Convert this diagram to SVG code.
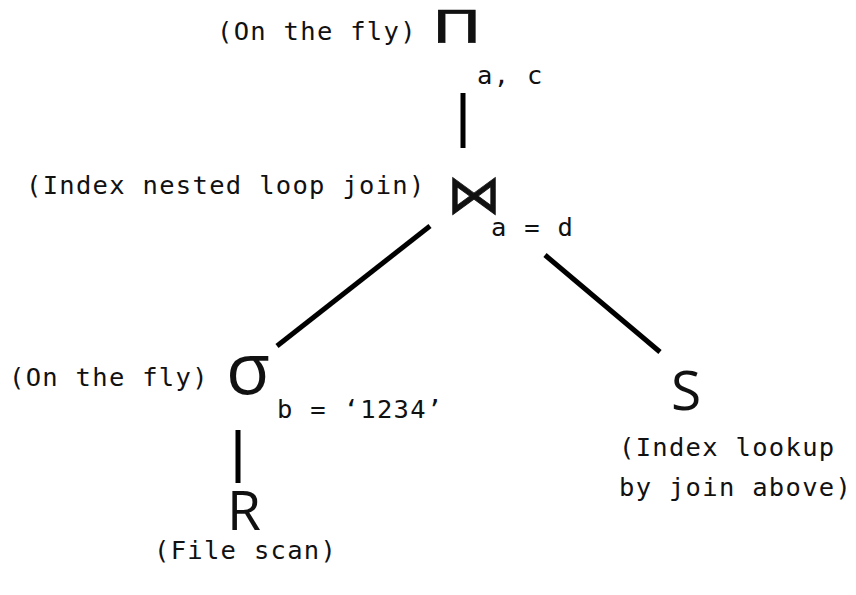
<svg xmlns="http://www.w3.org/2000/svg" width="856" height="595" viewBox="0 0 856 595">
<style>
.lbl{font-family:"DejaVu Sans Mono","Liberation Mono",monospace;font-size:25.5px;letter-spacing:1.3px;fill:#111}
.sym{font-family:"Open Sans","Liberation Sans",sans-serif;fill:#111}
.edge{stroke:#000;stroke-width:5;stroke-linecap:butt;fill:none}
</style>
<rect width="856" height="595" fill="#fff"/>
<g id="connectors">
<line class="edge" x1="463" y1="93" x2="463" y2="148"/>
<line class="edge" x1="430" y1="226" x2="277" y2="346"/>
<line class="edge" x1="545" y1="255" x2="660" y2="352"/>
<line class="edge" x1="238" y1="430" x2="238" y2="483"/>
</g>
<g id="project">
<text class="lbl" x="217" y="40">(On the fly)</text>
<text x="0" y="0" font-family="DejaVu Sans" font-size="44" fill="#111" stroke="#111" stroke-width="0.6" transform="translate(432 43) scale(1.5 1)">Π</text>
<text class="lbl" x="477" y="84">a, c</text>
</g>
<g id="join">
<text class="lbl" x="26" y="194">(Index nested loop join)</text>
<text x="447" y="213" font-family="DejaVu Sans" font-size="54" fill="#111" stroke="#111" stroke-width="0.8">⋈</text>
<text class="lbl" x="491" y="236">a = d</text>
</g>
<g id="select">
<text class="lbl" x="9" y="386">(On the fly)</text>
<text class="sym" x="226" y="394" font-size="72">σ</text>
<text class="lbl" x="277" y="418">b = ‘1234’</text>
</g>
<g id="R">
<text class="sym" x="227" y="530" font-size="55">R</text>
<text class="lbl" x="154" y="559">(File scan)</text>
</g>
<g id="S">
<text class="sym" x="671" y="410" font-size="55">S</text>
<text class="lbl" x="619" y="456">(Index lookup</text>
<text class="lbl" x="619" y="496">by join above)</text>
</g>
</svg>
